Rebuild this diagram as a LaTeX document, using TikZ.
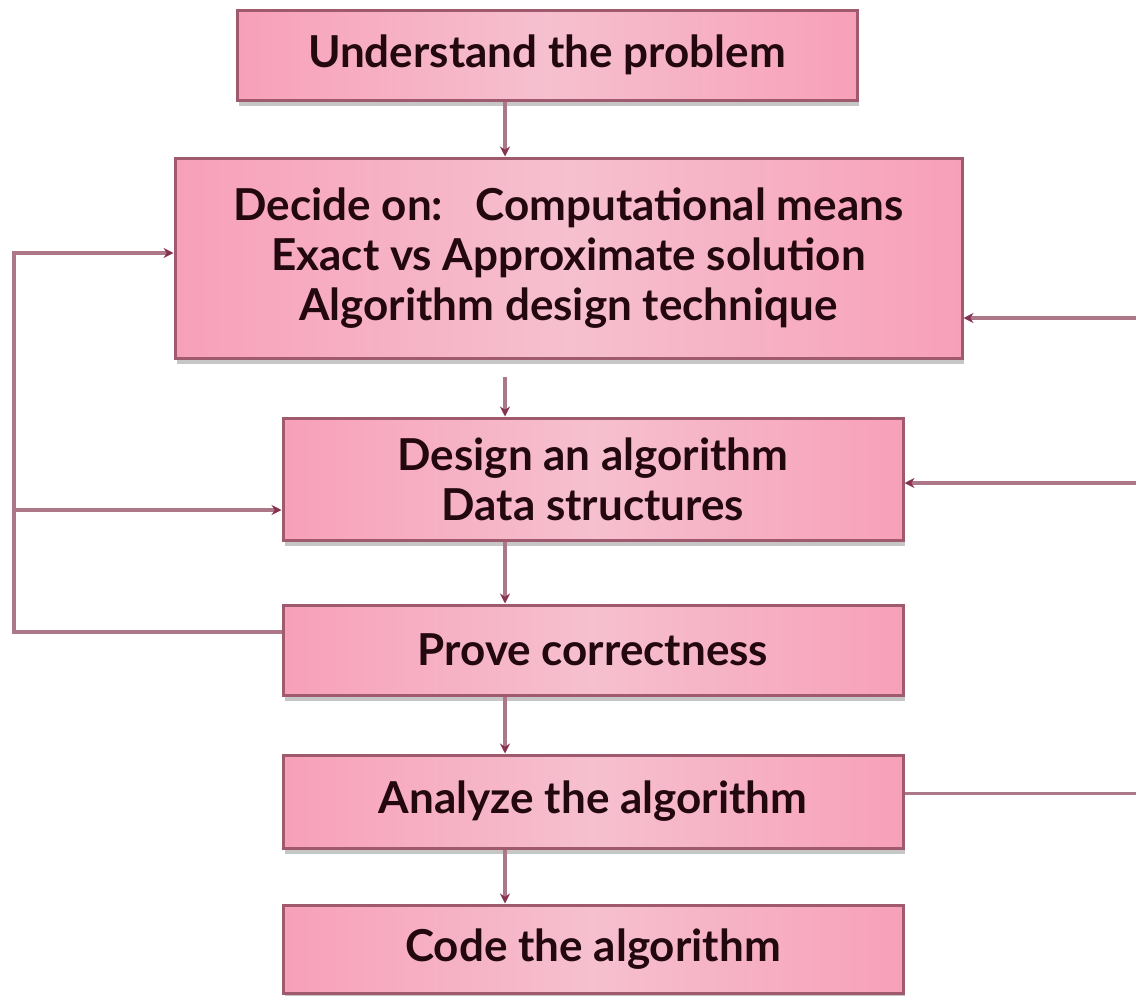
\documentclass[tikz,border=0pt]{standalone}
\usepackage{fontspec}
\setmainfont{Lato}
\usepackage{tikz}
\usetikzlibrary{arrows.meta,calc,positioning,shadows}
\definecolor{boxpink}{RGB}{247,160,185}
\definecolor{boxlight}{RGB}{246,192,207}
\definecolor{boxedge}{RGB}{160,90,110}
\definecolor{linecol}{RGB}{172,120,136}
\definecolor{tipcol}{RGB}{135,50,80}
\definecolor{txtcol}{RGB}{35,8,16}
\tikzstyle{stepbox}=[draw=boxedge,line width=3pt,left color=boxpink,right color=boxpink,middle color=boxlight,
  drop shadow={shadow xshift=2pt,shadow yshift=-6pt,fill=black!50,opacity=0.45},
  inner sep=0pt,align=center,text=txtcol,font=\fontsize{44}{50}\selectfont\bfseries]
\tikzstyle{link}=[draw=linecol,line width=3.2pt,-{Stealth[length=10pt,width=10pt,color=tipcol]}]
\tikzstyle{plain}=[draw=linecol,line width=3.2pt]

\begin{document}
\begin{tikzpicture}[x=1pt,y=-1pt]
    \useasboundingbox (0,0) rectangle (1136,996);
    \def\wbox{620}
    % boxes
    \node[stepbox,minimum width=\wbox,minimum height=90] (Und) at (547,55) {Understand the problem};
    \node[stepbox,minimum width=787,minimum height=200] (Dec) at (568.5,258)
        {Decide on:\ \ \ Computational means\\Exact vs Approximate solution\\Algorithm design technique};
    \node[stepbox,minimum width=\wbox,minimum height=122] (Des) at (593,479) {Design an algorithm\\Data structures};
    \node[stepbox,minimum width=\wbox,minimum height=90] (Prv) at (593,650) {Prove correctness};
    \node[stepbox,minimum width=\wbox,minimum height=93] (Ana) at (593,801.5) {Analyze the algorithm};
    \node[stepbox,minimum width=\wbox,minimum height=88] (Cod) at (593,949) {Code the algorithm};
    % guide lines
    \coordinate (S) at (505,0);
    \coordinate (L) at (14,0);
    \coordinate (R) at (1136,0);
    % main chain
    \draw[link] (Und.south -| S) -- (Dec.north -| S);
    \draw[link] ($(Dec.south -| S)+(0,17)$) -- (Des.north -| S);
    \draw[link] (Des.south -| S) -- (Prv.north -| S);
    \draw[link] (Prv.south -| S) -- (Ana.north -| S);
    \draw[link] (Ana.south -| S) -- (Cod.north -| S);
    % loop on the left
    \draw[link] ($(Prv.west)+(0,-18)$) -- ($(Prv.west -| L)+(0,-18)$) |- ($(Dec.west)+(0,-5)$);
    \draw[link] ($(Des.west -| L)+(0,31)$) -- ($(Des.west)+(0,31)$);
    % loop on the right
    \draw[plain] ($(Ana.east)+(0,-8)$) -- ($(Ana.east -| R)+(0,-8)$);
    \draw[link] ($(Des.east -| R)+(0,4)$) -- ($(Des.east)+(0,4)$);
    \draw[link] ($(Dec.east -| R)+(0,60)$) -- ($(Dec.east)+(0,60)$);
\end{tikzpicture}
\end{document}
